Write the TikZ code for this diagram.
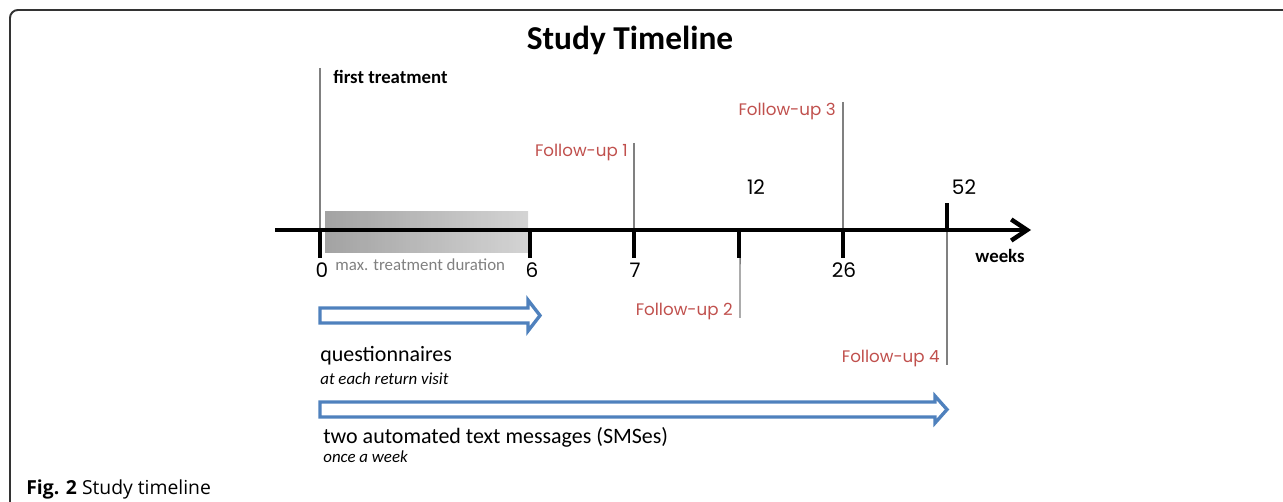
\documentclass[tikz,border=0pt]{standalone}
\usepackage{fontspec}
\setmainfont{Carlito}
\newfontfamily\gothicfont{Poppins}
\newfontfamily\captionfont{Open Sans}
\usetikzlibrary{arrows.meta}

\definecolor{fublue}{HTML}{4F81BD}
\definecolor{fured}{HTML}{C0504D}

\tikzset{
  weektick/.style={line width=2.3pt},
  guide/.style={draw=gray, line width=0.8pt},
  fulabel/.style={text=fured, font=\gothicfont\fontsize{9.5}{11}\selectfont, inner sep=0pt, anchor=base east},
  weeknum/.style={font=\gothicfont\fontsize{11.4}{13}\selectfont, inner sep=0pt, anchor=base},
  plain/.style={inner sep=0pt, anchor=base west},
  hollow/.style={draw=fublue, line width=1.9pt, line join=miter, fill=white},
}

\begin{document}
\begin{tikzpicture}[x=0.02cm, y=-0.02cm]
  \useasboundingbox (0,0) rectangle (1283,502);
  \draw[line width=1.1pt, black!80, rounded corners=4.5pt] (1283,10) -- (10,10) -- (10,502);

  \node[font=\bfseries\fontsize{19}{22}\selectfont, anchor=base] (title) at (630,50) {Study Timeline};

  \shade[left color=gray!85, right color=gray!40, opacity=0.85] (325,212) rectangle (528,253);

  \coordinate (axisstart) at (275,230);
  \coordinate (axisend) at (1031,230);
  \foreach \w/\x in {0/320,6/530,7/634,12/739,26/843,52/947}
    \coordinate (w\w) at (\x,230);

  \coordinate (ftop) at (320,68);
  \draw[guide] (ftop) -- ([yshift=-3pt]w0);
  \node[plain, font=\bfseries\fontsize{10.7}{12}\selectfont] (first) at (333,84) {first treatment};

  \coordinate (fu1) at (634,143);
  \coordinate (fu2) at (740,318);
  \coordinate (fu3) at (843,102);
  \coordinate (fu4) at (947,365);
  \draw[guide] (fu1) -- (w7);
  \draw[guide] (fu3) -- (w26);
  \draw[guide] ([xshift=0.6pt]w12) -- (fu2);
  \draw[guide] (w52) -- (fu4);
  \node[fulabel] (fu1lbl) at (628,157) {Follow-up 1};
  \node[fulabel] (fu2lbl) at (733,316) {Follow-up 2};
  \node[fulabel] (fu3lbl) at (836,116) {Follow-up 3};
  \node[fulabel] (fu4lbl) at (940,363) {Follow-up 4};

  \draw[line width=2.5pt, -{Straight Barb[length=9pt, width=12pt]}] (axisstart) -- (axisend);
  \foreach \w in {0,6,7,12,26}
    \draw[weektick] (w\w) -- ++(0,28);
  \draw[weektick] (w52) -- ++(0,-27);

  \node[weeknum] (n0) at (322,278) {0};
  \node[weeknum] (n6) at (532,278) {6};
  \node[weeknum] (n7) at (635,278) {7};
  \node[weeknum] (n26) at (844,278) {26};
  \node[weeknum] (n12) at (756,195) {12};
  \node[weeknum] (n52) at (964,195) {52};
  \node[plain, anchor=base, font=\bfseries\fontsize{10.7}{12}\selectfont] (weeks) at (1000,263) {weeks};

  \node[plain, text=gray, font=\fontsize{9.6}{11}\selectfont] (maxdur) at (335,271) {max. treatment duration};

  \draw[hollow] (320,308) -- (528,308) -- (528,300) -- (540,315.5) -- (528,331) -- (528,323) -- (320,323) -- cycle;
  \node[plain, font=\fontsize{12.5}{14}\selectfont] (quest) at (320,362) {questionnaires};
  \node[plain, font=\itshape\fontsize{9.6}{11}\selectfont] (questnote) at (320,385) {at each return visit};

  \draw[hollow] (320,402) -- (935,402) -- (935,396) -- (947,409.5) -- (935,423) -- (935,417) -- (320,417) -- cycle;
  \node[plain, font=\fontsize{12.5}{14}\selectfont] (sms) at (323,443) {two automated text messages (SMSes)};
  \node[plain, font=\itshape\fontsize{9.6}{11}\selectfont] (smsnote) at (323,462) {once a week};

  \node[plain, font=\captionfont\fontsize{11}{13}\selectfont] (caption) at (26,494) {\textbf{Fig. 2} Study timeline};
\end{tikzpicture}
\end{document}
